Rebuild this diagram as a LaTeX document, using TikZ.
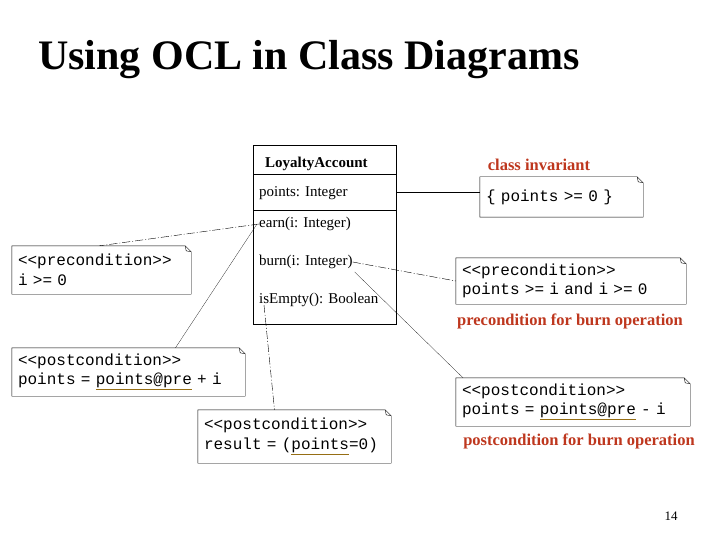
\documentclass[tikz,border=0pt]{standalone}
\usepackage{fontspec}
\setmainfont{Liberation Serif}
\setmonofont{Liberation Mono}
\definecolor{myred}{RGB}{190,55,30}
\definecolor{myunder}{RGB}{150,110,20}

\newcommand\ulpre[1]{\textcolor{myunder}{\underline{\textcolor{black}{#1}}}}
\newcommand\foldframe[1]{%
  \draw (#1.north west) -- ([xshift=-6pt]#1.north east) -- ([yshift=-6pt]#1.north east)
        -- (#1.south east) -- (#1.south west) -- cycle;
  \draw[thin] ([xshift=-6pt]#1.north east) -- ([xshift=-5pt,yshift=-5pt]#1.north east)
        -- ([yshift=-6pt]#1.north east);}

\begin{document}
\begin{tikzpicture}[x=1pt,y=-1pt,
    note/.style={inner xsep=6pt,align=left,font=\fontsize{16}{19.5}\selectfont\ttfamily},
    member/.style={anchor=west,inner sep=0pt,font=\fontsize{15}{17}\selectfont},
    remark/.style={text=myred,font=\fontsize{16.5}{18}\selectfont\bfseries},
    dashdot/.style={thin,dash pattern=on 8pt off 2pt on 1pt off 2pt}]
  \useasboundingbox (0,0) rectangle (720,540);
  \node[anchor=base west,inner sep=0pt,font=\fontsize{42}{44}\selectfont\bfseries]
    (title) at (38,70) {Using OCL in Class Diagrams};

  % class LoyaltyAccount
  \draw (253,145) rectangle (396,324);
  \draw (253,174) -- (396,174) (253,210) -- (396,210);
  \node[member,font=\fontsize{15}{17}\selectfont\bfseries] (cname) at (265,164) {LoyaltyAccount};
  \node[member] (points)  at (259,193) {points: Integer};
  \node[member] (earn)    at (259,224) {earn(i: Integer)};
  \node[member] (burn)    at (259,262) {burn(i: Integer)};
  \node[member] (isempty) at (259,300) {isEmpty(): Boolean};
  \coordinate (pointsend) at (396,192);

  % notes
  \node[note,minimum width=163pt,minimum height=40pt,text width=151pt] (inv) at (561.5,197)
    {\{ points >= 0 \}};
  \node[note,minimum width=179pt,minimum height=48pt,text width=167pt] (earnpre) at (101.5,270)
    {<<precondition>>\\i >= 0};
  \node[note,minimum width=233pt,minimum height=48pt,text width=221pt] (earnpost) at (128.5,372)
    {<<postcondition>>\\points = \ulpre{points@pre} + i};
  \node[note,minimum width=193pt,minimum height=53pt,text width=181pt] (emptypost) at (294.5,436.5)
    {<<postcondition>>\\result = (\ulpre{points}=0)};
  \node[note,minimum width=230pt,minimum height=46pt,text width=218pt] (burnpre) at (571,281)
    {<<precondition>>\\points >= i and i >= 0};
  \node[note,minimum width=234pt,minimum height=48pt,text width=222pt] (burnpost) at (573,402)
    {<<postcondition>>\\points = \ulpre{points@pre} - i};
  \foreach \n in {inv,earnpre,earnpost,emptypost,burnpre,burnpost} {\foldframe{\n}}

  % remarks
  \node[remark] (invlabel) at (539,165) {class invariant};
  \node[remark] (prelabel) at (570,321) {precondition for burn operation};
  \node[remark] (postlabel) at (579,441) {postcondition for burn operation};
  \node[font=\fontsize{13}{15}\selectfont] (page) at (671,516) {14};

  % connectors
  \draw (pointsend) -- (inv.west |- pointsend);
  \draw[dashdot] (earn.west) -- ([xshift=-2pt]earnpre.north);
  \draw[very thin] ([yshift=7pt,xshift=-2pt]earn.south west) -- ([xshift=47pt]earnpost.north);
  \draw[dashdot] (burn.east) -- (burnpre.west);
  \draw[very thin] ([xshift=2pt,yshift=-3pt]burn.south east) -- ([xshift=-110pt]burnpost.north);
  \draw[dashdot] ([xshift=5pt,yshift=2pt]isempty.south west) -- ([xshift=-20pt]emptypost.north);
\end{tikzpicture}
\end{document}
